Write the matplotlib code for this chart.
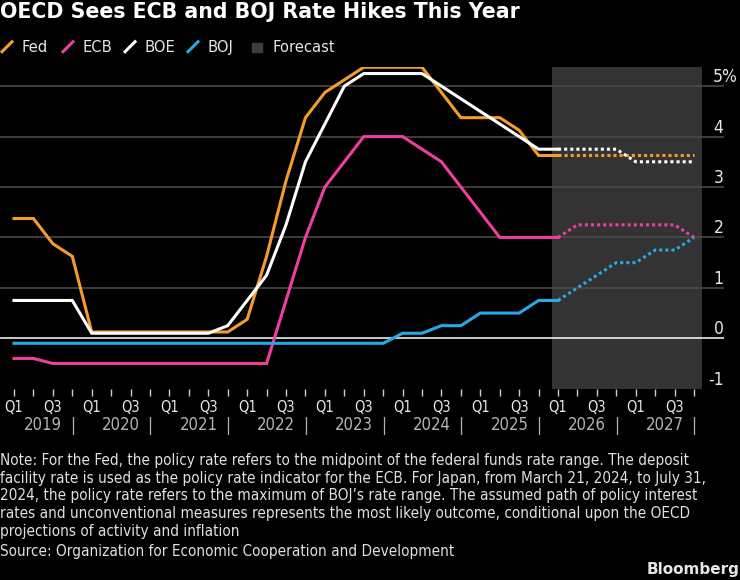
import matplotlib
matplotlib.use('Agg')
import matplotlib.pyplot as plt
from matplotlib import font_manager
from matplotlib.lines import Line2D
from matplotlib.patches import Rectangle
from matplotlib.transforms import blended_transform_factory

# ---- data (quarterly policy rates, %) ----
years = [2019, 2020, 2021, 2022, 2023, 2024, 2025, 2026, 2027]
quarters = [f"{y} Q{q}" for y in years for q in (1, 2, 3, 4)]

fed = [2.375, 2.375, 1.875, 1.625,
       0.125, 0.125, 0.125, 0.125,
       0.125, 0.125, 0.125, 0.125,
       0.375, 1.625, 3.125, 4.375,
       4.875, 5.125, 5.375, 5.375,
       5.375, 5.375, 4.875, 4.375,
       4.375, 4.375, 4.125, 3.625,
       3.625, 3.625, 3.625, 3.625,
       3.625, 3.625, 3.625, 3.625]
ecb = [-0.4, -0.4, -0.5, -0.5,
       -0.5, -0.5, -0.5, -0.5,
       -0.5, -0.5, -0.5, -0.5,
       -0.5, -0.5, 0.75, 2.0,
       3.0, 3.5, 4.0, 4.0,
       4.0, 3.75, 3.5, 3.0,
       2.5, 2.0, 2.0, 2.0,
       2.0, 2.25, 2.25, 2.25,
       2.25, 2.25, 2.25, 2.0]
boe = [0.75, 0.75, 0.75, 0.75,
       0.1, 0.1, 0.1, 0.1,
       0.1, 0.1, 0.1, 0.25,
       0.75, 1.25, 2.25, 3.5,
       4.25, 5.0, 5.25, 5.25,
       5.25, 5.25, 5.0, 4.75,
       4.5, 4.25, 4.0, 3.75,
       3.75, 3.75, 3.75, 3.75,
       3.5, 3.5, 3.5, 3.5]
boj = [-0.1, -0.1, -0.1, -0.1,
       -0.1, -0.1, -0.1, -0.1,
       -0.1, -0.1, -0.1, -0.1,
       -0.1, -0.1, -0.1, -0.1,
       -0.1, -0.1, -0.1, -0.1,
       0.1, 0.1, 0.25, 0.25,
       0.5, 0.5, 0.5, 0.75,
       0.75, 1.0, 1.25, 1.5,
       1.5, 1.75, 1.75, 2.0]

first_forecast = quarters.index("2026 Q1")
forecast_band = (27.7, 35.4)   # shaded forecast window, in quarter units
yticks = [-1, 0, 1, 2, 3, 4, 5]

series = [("Fed", fed, "#f59d2a"),
          ("ECB", ecb, "#ee3f9f"),
          ("BOE", boe, "#ffffff"),
          ("BOJ", boj, "#27a9e6")]

# ---- fonts ----
fonts = font_manager.fontManager.ttflist
names = {f.name for f in fonts}
if "Liberation Sans Narrow" in names:
    narrow = dict(family="Liberation Sans Narrow")
elif any(f.name == "DejaVu Sans" and f.stretch == "condensed" for f in fonts):
    narrow = dict(family="DejaVu Sans", stretch="condensed")
else:
    narrow = dict(family="Liberation Sans")

W, H = 740, 580
BG = "black"


def fx(x):
    return x / W


def fy(y):
    return 1 - y / H


fig = plt.figure(figsize=(W / 100, H / 100), dpi=100, facecolor=BG)
ax = fig.add_axes([0, fy(388.7), 724 / W, (388.7 - 67) / H], facecolor=BG)

x = list(range(len(quarters)))
ax.axvspan(*forecast_band, color="#333333", lw=0, zorder=0)

for v in yticks[1:]:
    ax.axhline(v, color="white" if v == 0 else "#4d4d4d", lw=1.1, zorder=1)

for name, vals, col in series:
    ax.plot(x[:first_forecast + 1], vals[:first_forecast + 1], color=col, lw=2.2,
            solid_joinstyle="miter", zorder=3)
    ax.plot(x[first_forecast:], vals[first_forecast:], color=col, lw=2.2,
            linestyle=(0, (1, 1.0)), dash_capstyle="butt", zorder=3)

ax.set_xlim((0 - 14) / 19.43, (724 - 14) / 19.43)
ax.set_ylim(-1, 5.38)
for s in ax.spines.values():
    s.set_visible(False)
ax.set_yticks([])
ax.set_xticks(x)
ax.set_xticklabels([])
ax.tick_params(axis="x", length=5, width=1, color="#cccccc", direction="out")

# quarter and year labels under the axis
bt = blended_transform_factory(ax.transData, fig.transFigure)
for i, q in enumerate(quarters):
    if q.endswith("Q1") or q.endswith("Q3"):
        ax.text(i, fy(412.3), q[-2:], transform=bt, ha="center", va="baseline",
                color="#e6e6e6", fontsize=10.5, **narrow)
for k, yr in enumerate(years):
    ax.text(4 * k + 1.5, fy(430), str(yr), transform=bt, ha="center", va="baseline",
            color="#b3b3b3", fontsize=12, **narrow)
    ax.text(4 * k + 3, fy(431), "|", transform=bt, ha="center", va="baseline",
            color="#b3b3b3", fontsize=12, **narrow)

# right-hand value labels, sitting just above the gridlines
rt = blended_transform_factory(fig.transFigure, ax.transData)
for v in yticks:
    lab = f"{v}%" if v == 5 else str(v)
    xr = 738 if v == 5 else 723.5
    fig.text(fx(xr), v + 4.0 / 50.4, lab, ha="right", va="baseline", color="#e6e6e6",
             fontsize=12.5, transform=rt, **narrow)

# title
fig.text(fx(0), fy(18.3), "OECD Sees ECB and BOJ Rate Hikes This Year", ha="left", va="baseline",
         color="white", fontsize=14.8, fontweight="bold", family="DejaVu Sans")

# legend
lx = [2, 63, 125, 188]
for (name, vals, col), x0 in zip(series, lx):
    fig.add_artist(Line2D([fx(x0), fx(x0 + 10)], [fy(51.7), fy(41.7)], color=col, lw=2.2,
                          transform=fig.transFigure))
    fig.text(fx(x0 + 19.5), fy(52.3), name, ha="left", va="baseline", color="#e6e6e6",
             fontsize=11.8, **narrow)
fig.add_artist(Rectangle((fx(252), fy(52)), fx(9.5), 9.5 / H, color="#3d3d3d",
                         transform=fig.transFigure))
fig.text(fx(272), fy(52.3), "Forecast", ha="left", va="baseline", color="#e6e6e6",
         fontsize=11.8, **narrow)

# notes
note = ["Note: For the Fed, the policy rate refers to the midpoint of the federal funds rate range. The deposit",
        "facility rate is used as the policy rate indicator for the ECB. For Japan, from March 21, 2024, to July 31,",
        "2024, the policy rate refers to the maximum of BOJ\u2019s rate range. The assumed path of policy interest",
        "rates and unconventional measures represents the most likely outcome, conditional upon the OECD",
        "projections of activity and inflation"]
for k, line in enumerate(note):
    fig.text(fx(0), fy(465 + 17.7 * k), line, ha="left", va="baseline", color="#e0e0e0",
             fontsize=11, **narrow)
fig.text(fx(0), fy(556), "Source: Organization for Economic Cooperation and Development", ha="left",
         va="baseline", color="#e0e0e0", fontsize=11, **narrow)
fig.text(fx(739), fy(574.3), "Bloomberg", ha="right", va="baseline", color="#e6e6e6",
         fontsize=11, fontweight="bold", family="DejaVu Sans")

fig.savefig("out.png", dpi=100, facecolor=BG)
